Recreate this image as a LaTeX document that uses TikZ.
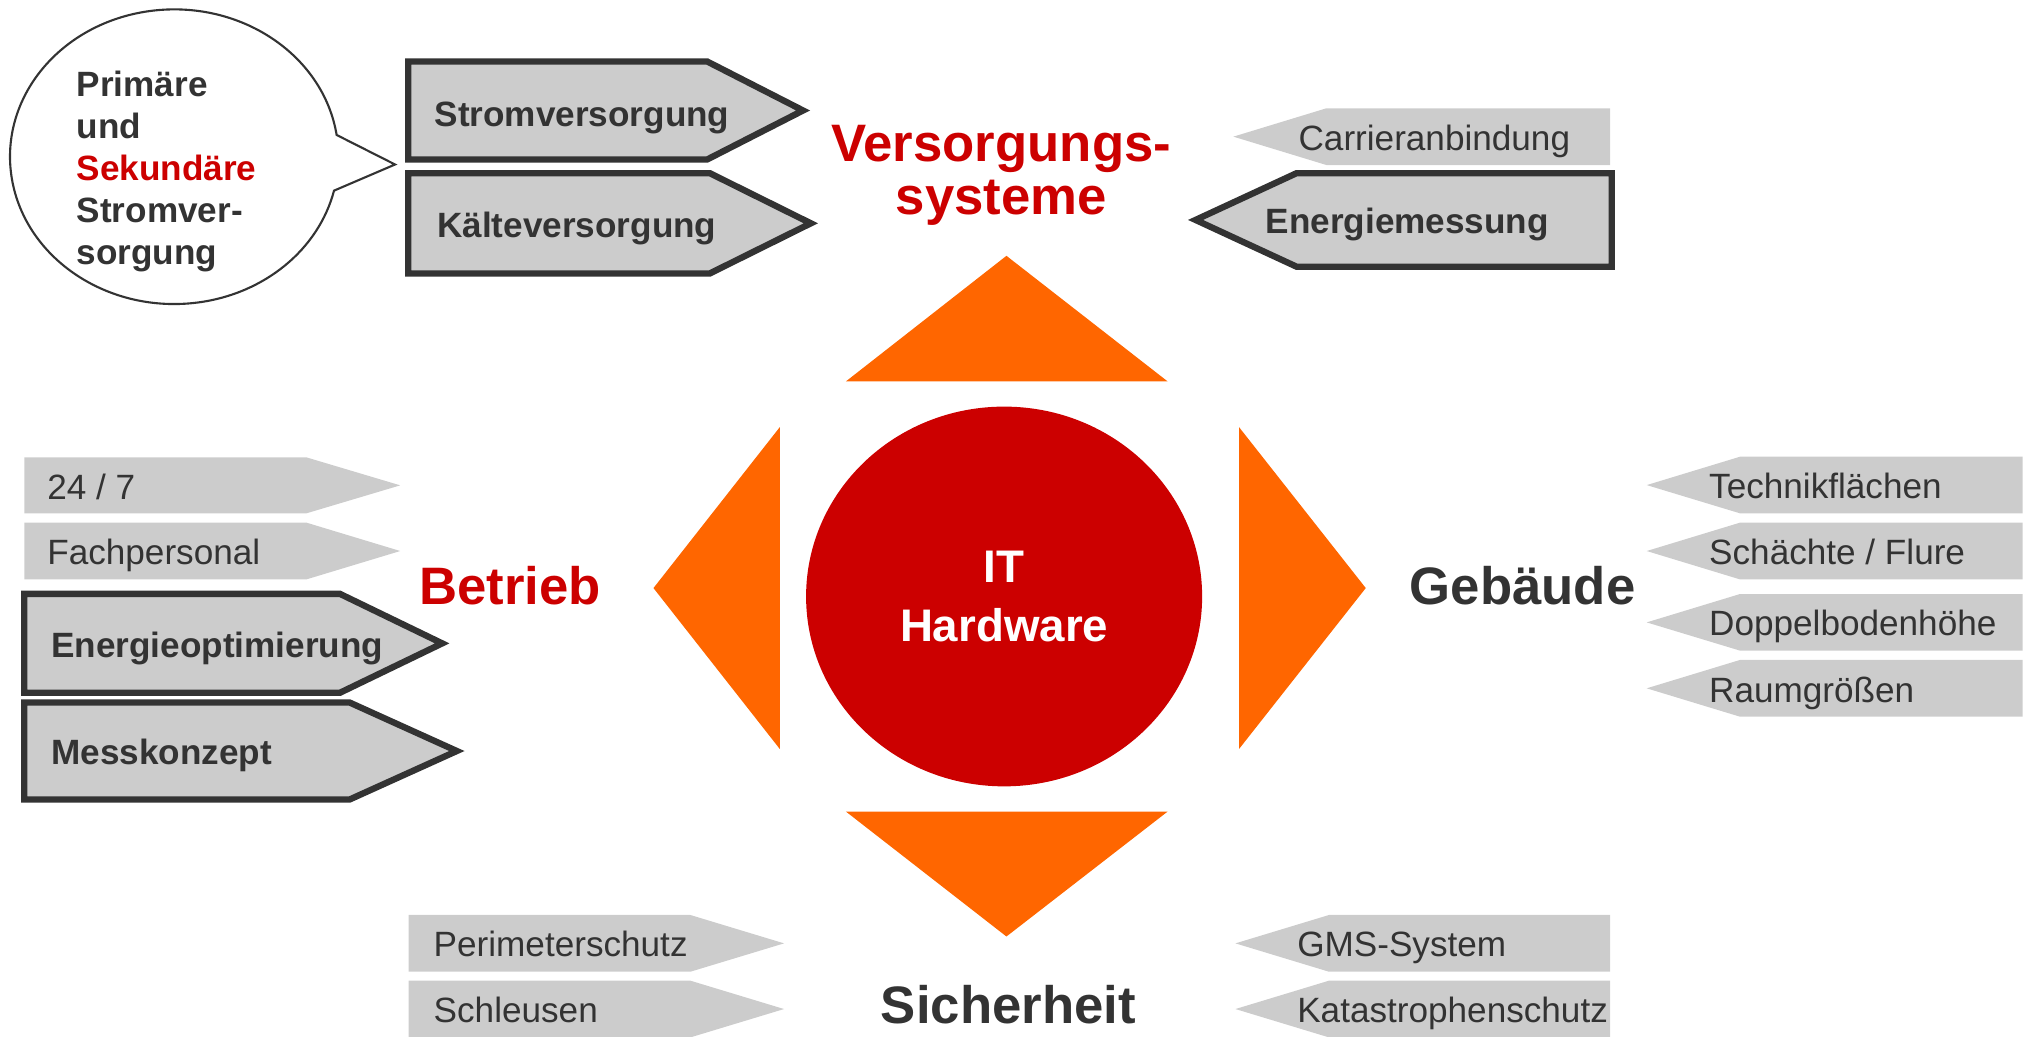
\documentclass[tikz,border=0pt]{standalone}
\usepackage{fontspec}
\setmainfont{Liberation Sans}
\usetikzlibrary{shapes.geometric}
\definecolor{boxgrau}{HTML}{CCCCCC}
\definecolor{textgrau}{HTML}{333333}
\definecolor{dunkelrot}{HTML}{CC0000}
\definecolor{signalorange}{HTML}{FF6600}

\begin{document}
\begin{tikzpicture}[x=0.012953cm, y=-0.012953cm,
  lightbox/.style={fill=boxgrau},
  darkbox/.style={fill=boxgrau, draw=textgrau, line width=1.8pt, line join=miter},
  keil/.style={fill=signalorange},
  ltext/.style={anchor=base west, inner sep=0pt, text=textgrau, font=\fontsize{10}{12}\selectfont},
  btext/.style={ltext, font=\fontsize{10}{12}\selectfont\bfseries},
  bereich/.style={anchor=base, inner sep=0pt, text=textgrau, font=\fontsize{15}{18}\selectfont\bfseries}]
  \useasboundingbox (0,0) rectangle (1568,800);

  % Sprechblase
  \draw[line width=0.6pt, draw=textgrau, fill=white] (305,127) -- (259.9,104.2)
    arc[start angle=8.49, end angle=346.68, x radius=1.6424cm, y radius=1.4734cm] -- cycle;
  \node[anchor=west, inner sep=0pt, align=left, text=textgrau, font=\fontsize{10}{11.9}\selectfont\bfseries] (blase) at (58.7,132.5)
    {Primäre\\und\\\textcolor{dunkelrot}{Sekundäre}\\Stromver-\\sorgung};

  % Versorgungssysteme
  \draw[darkbox] (315.2,47.5) -- (546,47.5) -- (620,85.3) -- (546,123.1) -- (315.2,123.1) -- cycle;
  \node[btext] (strom) at (335,98) {Stromversorgung};
  \draw[darkbox] (315.2,133.7) -- (548,133.7) -- (626,172.4) -- (548,211.1) -- (315.2,211.1) -- cycle;
  \node[btext] (kaelte) at (337,183.5) {Kälteversorgung};
  \fill[lightbox] (952.2,105.5) -- (1024,83.6) -- (1243,83.6) -- (1243,127.4) -- (1024,127.4) -- cycle;
  \node[ltext] (carrier) at (1002,116) {Carrieranbindung};
  \draw[darkbox] (923,169.8) -- (1001,133.7) -- (1244.3,133.7) -- (1244.3,205.9) -- (1001,205.9) -- cycle;
  \node[btext] (emess) at (976.6,180.6) {Energiemessung};

  % Betrieb
  \fill[lightbox] (18.9,353.1) -- (236.6,353.1) -- (309,374.7) -- (236.6,396.3) -- (18.9,396.3) -- cycle;
  \node[ltext] (rund) at (36,385.3) {24 / 7};
  \fill[lightbox] (18.9,403.5) -- (236.6,403.5) -- (309,425.4) -- (236.6,447.3) -- (18.9,447.3) -- cycle;
  \node[ltext] (personal) at (36,436) {Fachpersonal};
  \draw[darkbox] (18.7,458.5) -- (262.5,458.5) -- (341.4,496.7) -- (262.5,534.8) -- (18.7,534.8) -- cycle;
  \node[btext] (optim) at (39,507.5) {Energieoptimierung};
  \draw[darkbox] (18.7,542.4) -- (270,542.4) -- (352.7,579.8) -- (270,617.2) -- (18.7,617.2) -- cycle;
  \node[btext] (messk) at (39,590) {Messkonzept};

  % Gebaeude
  \fill[lightbox] (1271.3,374.5) -- (1343.3,352.6) -- (1561.5,352.6) -- (1561.5,396.3) -- (1343.3,396.3) -- cycle;
  \node[ltext] (technik) at (1319,385) {Technikflächen};
  \fill[lightbox] (1271.3,425.4) -- (1343.3,403.5) -- (1561.5,403.5) -- (1561.5,447.3) -- (1343.3,447.3) -- cycle;
  \node[ltext] (schacht) at (1319,436) {Schächte / Flure};
  \fill[lightbox] (1271.3,480.5) -- (1343.3,458.6) -- (1561.5,458.6) -- (1561.5,502.3) -- (1343.3,502.3) -- cycle;
  \node[ltext] (boden) at (1319,491) {Doppelbodenhöhe};
  \fill[lightbox] (1271.3,531.4) -- (1343.3,509.5) -- (1561.5,509.5) -- (1561.5,553.3) -- (1343.3,553.3) -- cycle;
  \node[ltext] (raum) at (1319,542) {Raumgrößen};

  % Sicherheit
  \fill[lightbox] (315.4,706.4) -- (533,706.4) -- (605.3,728.3) -- (533,750.2) -- (315.4,750.2) -- cycle;
  \node[ltext] (perimeter) at (334.3,738.5) {Perimeterschutz};
  \fill[lightbox] (315.4,757.1) -- (533,757.1) -- (605.3,779) -- (533,800.9) -- (315.4,800.9) -- cycle;
  \node[ltext] (schleuse) at (334.3,789.5) {Schleusen};
  \fill[lightbox] (953.8,728.3) -- (1026,706.4) -- (1243,706.4) -- (1243,750.2) -- (1026,750.2) -- cycle;
  \node[ltext] (gms) at (1001,738.5) {GMS-System};
  \fill[lightbox] (953.8,779) -- (1026,757.1) -- (1243,757.1) -- (1243,800.9) -- (1026,800.9) -- cycle;
  \node[ltext] (kat) at (1001,789.5) {Katastrophenschutz};

  % Keile und Mitte
  \fill[keil] (777,197.5) -- (901.5,294.5) -- (653,294.5) -- cycle;
  \fill[keil] (653,626.5) -- (901.5,626.5) -- (777,723) -- cycle;
  \fill[keil] (504.5,454) -- (602,329.8) -- (602,578.2) -- cycle;
  \fill[keil] (1054.4,454) -- (956.6,329.8) -- (956.6,578.2) -- cycle;
  \node[ellipse, fill=dunkelrot, minimum width=3.961cm, minimum height=3.798cm, inner sep=0pt,
    align=center, text=white, font=\fontsize{13}{16.6}\selectfont\bfseries] (hw) at (775.2,460.5) {IT\\Hardware};

  % Bereiche
  \node[bereich, anchor=center, align=center, text=dunkelrot,
    font=\fontsize{15}{15}\selectfont\bfseries] (versorgung) at (773,135.5) {Versorgungs-\\systeme};
  \node[bereich, text=dunkelrot] (betrieb) at (393.7,467) {Betrieb};
  \node[bereich] (gebaeude) at (1175.5,467) {Gebäude};
  \node[bereich] (sicherheit) at (778.5,790) {Sicherheit};
\end{tikzpicture}
\end{document}
